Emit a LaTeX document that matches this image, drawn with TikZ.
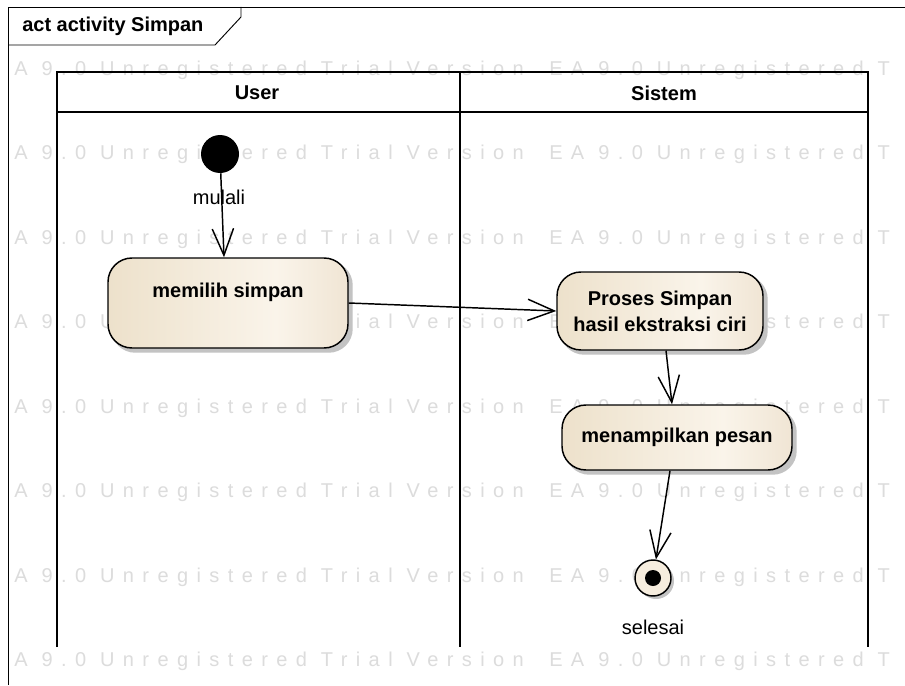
\documentclass[tikz,border=0pt]{standalone}
\usepackage{fontspec}
\setmainfont{Liberation Sans}
\usetikzlibrary{arrows.meta,calc}
\definecolor{eaL}{RGB}{237,225,203}
\definecolor{eaM}{RGB}{250,244,234}
\definecolor{eaR}{RGB}{240,229,212}
\definecolor{wmgray}{RGB}{220,220,220}
\definecolor{shadowc}{RGB}{195,195,195}
\definecolor{endfill}{RGB}{246,237,222}
\pgfdeclarehorizontalshading{eabox}{100bp}{color(0bp)=(eaL); color(25bp)=(eaL); color(60bp)=(eaM); color(75bp)=(eaR); color(100bp)=(eaR)}
\pgfdeclarelayer{wmlayer}
\pgfdeclarelayer{shadowlayer}
\pgfsetlayers{wmlayer,shadowlayer,main}
\tikzset{
  wm/.style={inner sep=0pt, text=wmgray, font=\fontsize{15}{15}\selectfont\addfontfeature{LetterSpace=42}},
  actbox/.style={draw, line width=1.1pt, rounded corners=18pt, shading=eabox, align=center, inner sep=0pt,
    font=\bfseries\fontsize{15}{19.5}\selectfont},
  lane/.style={line width=1.5pt},
  frameline/.style={line width=0.7pt},
  flow/.style={line width=1.1pt, -{Straight Barb[length=20pt,width=16pt,line width=1.1pt]}},
  plain/.style={inner sep=0pt, font=\fontsize{15}{15}\selectfont},
  boldtxt/.style={inner sep=0pt, font=\bfseries\fontsize{15}{15}\selectfont},
  shadowbox/.style={fill=shadowc, rounded corners=18pt}
}
\begin{document}
\begin{tikzpicture}[x=0.75pt,y=-0.75pt]
\useasboundingbox (0,0) rectangle (905,685);

% watermark
\begin{pgfonlayer}{wmlayer}
\fill[white] (0,0) rectangle (905,685);
\foreach \y [count=\i] in {70,154.5,239,323.5,408,492.5,577,661.5} {
  \node[wm, anchor=west] (wmA\i) at (14,\y) {A 9.0 Unregistered Trial Version};
  \node[wm, anchor=west] (wmB\i) at (549,\y) {EA 9.0 Unregistered T};
}
\end{pgfonlayer}

% frame
\draw[frameline] (8,685) -- (8,7) -- (905,7);
\draw[frameline] (8,45) -- (215,45) -- (241,17) -- (241,7);
\node[boldtxt, anchor=west] (title) at (22,26) {act activity Simpan};

% swimlanes
\draw[lane] (57,647) -- (57,72) -- (868,72) -- (868,647);
\draw[lane] (57,112) -- (868,112);
\draw[lane] (460,72) -- (460,647);
\node[boldtxt] (hUser) at (257,93) {User};
\node[boldtxt] (hSistem) at (664,93) {Sistem};

% nodes
\node[circle, fill=black, minimum size=28.5pt, inner sep=0pt] (start) at (220,154) {};
\node[actbox, minimum width=180pt, minimum height=67.5pt] (memilih) at (228,303) {memilih simpan\\\mbox{}};
\node[actbox, minimum width=154.5pt, minimum height=58.5pt] (proses) at (660,311) {Proses Simpan\\hasil ekstraksi ciri};
\node[actbox, minimum width=172.5pt, minimum height=48.75pt] (tampil) at (677,437.5) {menampilkan pesan};
\node[circle, draw, line width=1.1pt, fill=endfill, minimum size=27pt, inner sep=0pt] (end) at (653,578) {};
\node[circle, fill=black, minimum size=12pt, inner sep=0pt] (endin) at (end.center) {};
\node[plain] (selesai) at (653,627) {selesai};

% shadows
\begin{pgfonlayer}{shadowlayer}
\foreach \n in {memilih,proses,tampil} {
  \fill[shadowbox] ($(\n.south west)+(4,4)$) rectangle ($(\n.north east)+(4,4)$);
}
\fill[shadowc] ($(end.center)+(3,3)$) circle (18);
\end{pgfonlayer}

% connectors
\coordinate (s1) at ($(memilih.north)+(-4,0)$);
\draw[flow] (start) -- (s1);
\node[plain] (mulali) at (219,197) {mulali};
\draw[flow] (memilih.east) -- (proses.west);
\coordinate (p1) at ($(proses.south)+(6,0)$);
\coordinate (t1) at ($(tampil.north)+(-5,0)$);
\draw[flow] (p1) -- (t1);
\coordinate (t2) at ($(tampil.south)+(-7,0)$);
\draw[flow] (t2) -- (end);
\end{tikzpicture}
\end{document}
